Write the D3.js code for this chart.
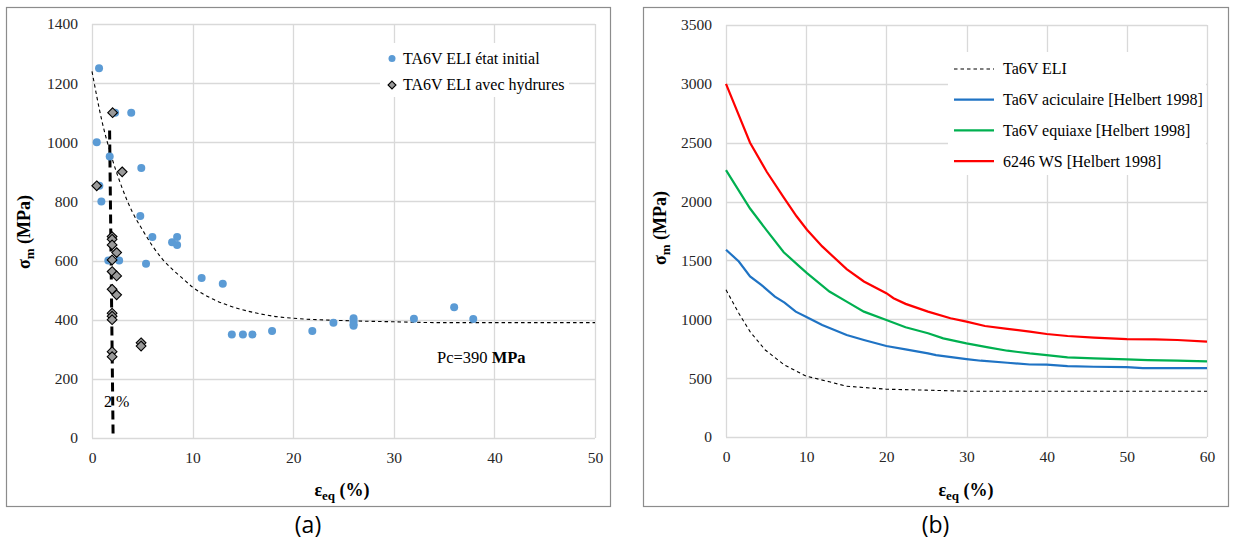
<!DOCTYPE html>
<html><head><meta charset="utf-8">
<script src="https://cdn.jsdelivr.net/npm/d3@7"></script>
</head><body style="margin:0;background:#fff">
<script>
// ---------- Panel (a) data ----------
const aXTicks = [0, 10, 20, 30, 40, 50];
const aYTicks = [0, 200, 400, 600, 800, 1000, 1200, 1400];
const initialX = [0.7, 2.3, 3.9, 0.47, 1.76, 4.9, 0.73, 0.93, 4.8, 6.0, 7.96, 8.46, 8.46, 1.62, 2.7, 5.37, 10.9, 13.0, 13.9, 15.0, 15.95, 17.9, 21.9, 24.0, 26, 26, 26, 26, 32, 36, 37.9];
const initialY = [1250, 1100, 1100, 1000, 952, 913, 853, 800, 751, 680, 662, 680, 653, 600, 600, 589, 541, 522, 350, 350, 350, 362, 362, 390, 405, 395, 385, 380, 403, 442, 402];
const hydrX = [2.05, 3.0, 0.47, 2.0, 2.0, 2.0, 2.45, 2.0, 2.0, 2.45, 2.0, 2.45, 2.0, 2.0, 2.0, 4.88, 4.88, 2.0, 2.0];
const hydrY = [1100, 900, 853, 681, 672, 653, 627, 602, 563, 548, 503, 484, 422, 412, 400, 322, 311, 292, 275];
const trendX = [0, 1, 2, 3, 4, 5, 6, 7, 8, 9, 10, 12, 14, 16, 18, 20, 25, 30, 35, 40, 50];
const trendY = [1240, 1070, 945, 845, 765, 705, 650, 605, 570, 540, 510, 470, 443, 425, 412, 405, 397, 393, 390, 390, 390];
const limitX = [1.75, 2.1];
const limitY = [1040, 0];
const aLegend = ["TA6V ELI état initial", "TA6V ELI avec hydrures"];

// ---------- Panel (b) data ----------
const bXTicks = [0, 10, 20, 30, 40, 50, 60];
const bYTicks = [0, 500, 1000, 1500, 2000, 2500, 3000, 3500];
const eliX = [0, 1.6, 3, 4.9, 7.3, 10, 12.9, 15, 20, 25, 30, 60];
const eliY = [1250, 1051, 895, 739, 611, 517, 469, 432, 406, 398, 389, 389];
const acicX = [0, 1.6, 3, 4.4, 6.1, 7.3, 8.7, 10.1, 12, 15.05, 17.2, 20, 22.4, 25.2, 26.2, 30, 31.8, 35.1, 37.9, 40, 42.6, 45.9, 50, 52, 60];
const acicY = [1591, 1491, 1364, 1293, 1193, 1142, 1065, 1017, 952, 866, 824, 773, 744, 710, 696, 662, 648, 631, 616, 614, 602, 597, 594, 585, 585];
const equiX = [0, 3, 5, 7.2, 9.15, 10.1, 12.9, 15.05, 17.2, 20, 22.4, 25.2, 27.1, 30, 32.7, 35.1, 37.9, 40, 42.6, 45.9, 50, 52.6, 56.3, 60];
const equiY = [2267, 1941, 1762, 1570, 1449, 1392, 1236, 1150, 1065, 994, 932, 881, 838, 795, 761, 733, 710, 696, 676, 668, 659, 653, 648, 642];
const ws6246X = [0, 3, 5.08, 7.15, 8.8, 10.1, 12, 15.05, 17.2, 20, 20.9, 22.4, 25.2, 28, 30, 32.3, 35.1, 37.9, 40, 42.6, 45.9, 50, 53.5, 56.3, 60];
const ws6246Y = [3000, 2500, 2253, 2040, 1875, 1761, 1619, 1426, 1321, 1222, 1179, 1131, 1065, 1009, 980, 943, 918, 895, 875, 858, 844, 832, 830, 824, 810];
const bLegend = ["Ta6V ELI", "Ta6V aciculaire [Helbert 1998]", "Ta6V equiaxe [Helbert 1998]", "6246 WS [Helbert 1998]"];
const bColors = ["#000000", "#1f73c4", "#00b050", "#ff0000"];

const SERIF = '"Liberation Serif"';
const svg = d3.select("body").append("svg").attr("width", 1234).attr("height", 547).style("display", "block");
const GRID = "#d9d9d9";

function panel(box, plot, xDom, yDom, xTicks, yTicks, label, titleX, titleY) {
  svg.append("rect").attr("x", box[0] + 0.5).attr("y", box[1] + 0.5)
    .attr("width", box[2] - box[0]).attr("height", box[3] - box[1])
    .attr("fill", "#fff").attr("stroke", "#8c8c8c").attr("stroke-width", 1.2);
  const x = d3.scaleLinear().domain(xDom).range([plot[0], plot[2]]);
  const y = d3.scaleLinear().domain(yDom).range([plot[3], plot[1]]);
  const g = svg.append("g");
  g.selectAll(".gx").data(xTicks).join("line")
    .attr("x1", d => Math.round(x(d)) + 0.5).attr("x2", d => Math.round(x(d)) + 0.5)
    .attr("y1", plot[1]).attr("y2", plot[3]).attr("stroke", GRID).attr("stroke-width", 1.3);
  g.selectAll(".gy").data(yTicks).join("line")
    .attr("y1", d => Math.round(y(d)) + 0.5).attr("y2", d => Math.round(y(d)) + 0.5)
    .attr("x1", plot[0]).attr("x2", plot[2]).attr("stroke", GRID).attr("stroke-width", 1.3);
  const ax = svg.append("g").attr("transform", `translate(0,${plot[3] + 20})`)
    .call(d3.axisBottom(x).tickValues(xTicks).tickSize(0).tickFormat(d3.format("d")));
  ax.attr("font-family", "Liberation Serif");
  ax.select(".domain").remove();
  ax.selectAll("text").attr("dy", "0.32em").attr("y", 0).style("font-size", "15.5px");
  const ay = svg.append("g").attr("transform", `translate(${plot[0] - 14},0)`)
    .call(d3.axisLeft(y).tickValues(yTicks).tickSize(0).tickFormat(d3.format("d")));
  ay.attr("font-family", "Liberation Serif");
  ay.select(".domain").remove();
  ay.selectAll("text").attr("x", 0).attr("dy", "0.32em").style("font-size", "15.5px");
  const xt = svg.append("text").attr("x", titleX[0]).attr("y", titleX[1])
    .attr("text-anchor", "middle").style("font-weight", "bold").style("font-size", "18px");
  xt.append("tspan").text("ε");
  xt.append("tspan").text("eq").style("font-size", "13px").attr("dy", 4);
  xt.append("tspan").text(" (%)").attr("dy", -4);
  const yt = svg.append("text").attr("transform", `translate(${titleY[0]},${titleY[1]}) rotate(-90)`)
    .attr("text-anchor", "middle").style("font-weight", "bold").style("font-size", "18px");
  yt.append("tspan").text("σ");
  yt.append("tspan").text("m").style("font-size", "13px").attr("dy", 4);
  yt.append("tspan").text(" (MPa)").attr("dy", -4);
  svg.append("text").attr("class", "lab").attr("x", (box[0] + box[2]) / 2).attr("y", 533)
    .attr("text-anchor", "middle").style("font-size", "23px").text(label);
  return {x, y};
}

// ---------- Panel (a) ----------
const A = panel([6, 7, 610, 506], [92, 24, 595, 438], [0, 50], [0, 1400], aXTicks, aYTicks, "(a)", [342, 496], [30, 232]);
const zipA = (xs, ys) => xs.map((v, i) => [v, ys[i]]);
svg.append("path").datum(zipA(trendX, trendY))
  .attr("d", d3.line().x(d => A.x(d[0])).y(d => A.y(d[1])).curve(d3.curveMonotoneX))
  .attr("fill", "none").attr("stroke", "#000").attr("stroke-width", 1.1).attr("stroke-dasharray", "3.5,3");
svg.append("path").datum(zipA(limitX, limitY))
  .attr("d", d3.line().x(d => A.x(d[0])).y(d => A.y(d[1])))
  .attr("fill", "none").attr("stroke", "#000").attr("stroke-width", 3).attr("stroke-dasharray", "9,5");
svg.append("g").selectAll("circle").data(zipA(initialX, initialY)).join("circle")
  .attr("cx", d => A.x(d[0])).attr("cy", d => A.y(d[1])).attr("r", 4).attr("fill", "#5b9bd5");
const diamond = d3.symbol().type(d3.symbolDiamond2).size(60);
svg.append("g").selectAll("path").data(zipA(hydrX, hydrY)).join("path")
  .attr("d", diamond).attr("transform", d => `translate(${A.x(d[0])},${A.y(d[1])})`)
  .attr("fill", "#9a9a9a").attr("stroke", "#000").attr("stroke-width", 1.1);
svg.append("text").attr("x", 104).attr("y", 407).style("font-size", "16px").text("2 %");
const pc = svg.append("text").attr("x", 437).attr("y", 363).style("font-size", "16.5px");
pc.append("tspan").text("Pc=390 ");
pc.append("tspan").text("MPa").style("font-weight", "bold");
svg.append("rect").attr("x", 380).attr("y", 43).attr("width", 189).attr("height", 54).attr("fill", "#fff");
svg.append("circle").attr("cx", 392).attr("cy", 58.5).attr("r", 3.5).attr("fill", "#5b9bd5");
svg.append("path").attr("d", d3.symbol().type(d3.symbolDiamond2).size(40)).attr("transform", "translate(392,85)")
  .attr("fill", "#9a9a9a").attr("stroke", "#000").attr("stroke-width", 1.1);
svg.selectAll(".lga").data(aLegend).join("text").attr("class", "lga").attr("x", 403).attr("y", (d, i) => 58.5 + i * 26.5)
  .attr("dy", "0.34em").style("font-size", "16px").text(d => d);

// ---------- Panel (b) ----------
const B = panel([643, 7, 1228, 506], [726, 25, 1207, 437], [0, 60], [0, 3500], bXTicks, bYTicks, "(b)", [966, 496], [666, 228]);
const seriesB = [[eliX, eliY], [acicX, acicY], [equiX, equiY], [ws6246X, ws6246Y]];
const lineB = d3.line().x(d => B.x(d[0])).y(d => B.y(d[1]));
seriesB.forEach((s, i) => {
  svg.append("path").datum(zipA(s[0], s[1])).attr("d", lineB)
    .attr("fill", "none").attr("stroke", bColors[i])
    .attr("stroke-width", i === 0 ? 1.1 : 2.2)
    .attr("stroke-dasharray", i === 0 ? "3.5,3" : null);
});
svg.append("rect").attr("x", 948).attr("y", 52).attr("width", 258).attr("height", 123).attr("fill", "#fff");
bLegend.forEach((t, i) => {
  const yy = 69 + i * 30.7;
  svg.append("line").attr("x1", 954).attr("x2", 994).attr("y1", yy).attr("y2", yy)
    .attr("stroke", bColors[i]).attr("stroke-width", i === 0 ? 1.1 : 2.2)
    .attr("stroke-dasharray", i === 0 ? "3.5,3" : null);
  svg.append("text").attr("x", 1003).attr("y", yy).attr("dy", "0.34em").style("font-size", "16px").text(t);
});

// fonts applied inline on every text and tspan
svg.selectAll("text, tspan").style("font-family", SERIF);
svg.selectAll("text").style("fill", "#000");
svg.selectAll("g.tick text").style("fill", "#262626");
svg.selectAll("text.lab").style("font-family", '"Open Sans"');
</script>
</body></html>
